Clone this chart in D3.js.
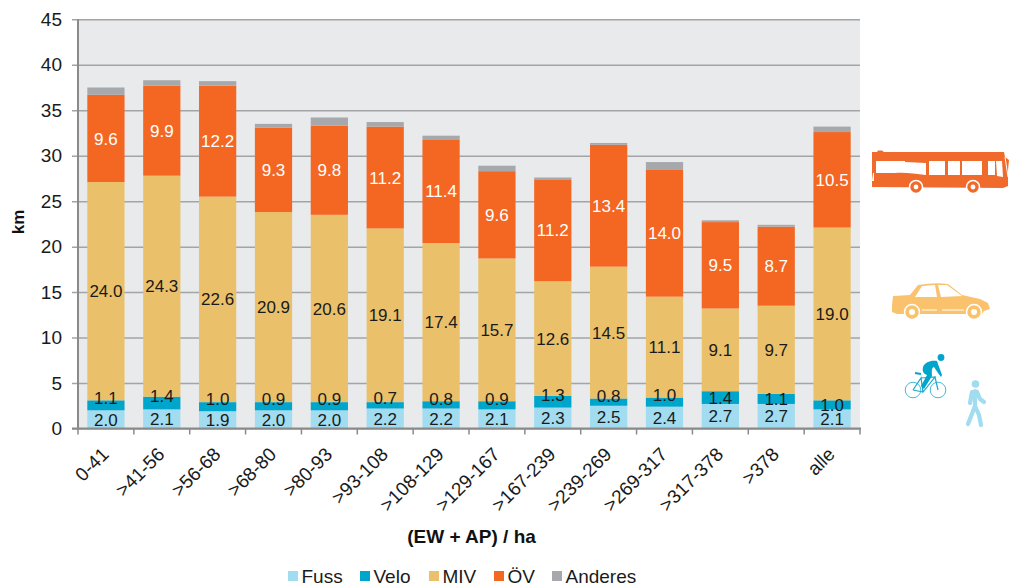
<!DOCTYPE html>
<html><head><meta charset="utf-8">
<script src="https://cdn.jsdelivr.net/npm/d3@7/dist/d3.min.js"></script>
<style>html,body{margin:0;padding:0;background:#fff}svg{display:block}text{font-family:"Liberation Sans",Arial,sans-serif}</style>
</head><body><svg id="c" width="1012" height="585"></svg>
<script>
const categories=["0-41",">41-56",">56-68",">68-80",">80-93",">93-108",">108-129",">129-167",">167-239",">239-269",">269-317",">317-378",">378","alle"];
const fuss=[2.0,2.1,1.9,2.0,2.0,2.2,2.2,2.1,2.3,2.5,2.4,2.7,2.7,2.1];
const velo=[1.1,1.4,1.0,0.9,0.9,0.7,0.8,0.9,1.3,0.8,1.0,1.4,1.1,1.0];
const miv=[24.0,24.3,22.6,20.9,20.6,19.1,17.4,15.7,12.6,14.5,11.1,9.1,9.7,19.0];
const oev=[9.6,9.9,12.2,9.3,9.8,11.2,11.4,9.6,11.2,13.4,14.0,9.5,8.7,10.5];
const anderes=[0.8,0.6,0.5,0.4,0.9,0.5,0.4,0.6,0.2,0.2,0.8,0.2,0.2,0.6];
const veloLabelKm=[3.35,3.55,3.25,3.25,3.25,3.35,3.25,3.25,3.7,3.6,3.75,3.4,3.3,2.6];
const seriesNames=["Fuss","Velo","MIV","ÖV","Anderes"];
const seriesColors=["#a1dcf0","#00a5cb","#eac16a","#f46723","#a7a8ac"];
const seriesValues=[fuss,velo,miv,oev,anderes];
const yTicks=[0,5,10,15,20,25,30,35,40,45];

const svg=d3.select("#c");
const L=78,R=860,T=19.3,B=428.5;
const x=d3.scaleBand().domain(categories).range([L,R]).paddingInner(1/3).paddingOuter(1/6);
const y=d3.scaleLinear().domain([0,45]).range([B,T]);

svg.append("rect").attr("x",L).attr("y",T).attr("width",R-L).attr("height",B-T).attr("fill","#e9eaec");

const yAxis=d3.axisLeft(y).tickValues(yTicks).tickSize(6).tickPadding(10).tickFormat(d3.format("d"));
const gy=svg.append("g").attr("transform",`translate(${L},0)`).call(yAxis);
gy.select(".domain").remove();
gy.selectAll(".tick line").attr("x1",-6).attr("x2",R-L).attr("stroke","#a3a4a6").attr("stroke-width",1.5);
gy.selectAll(".tick text").attr("font-size",19).attr("fill","#1a1a1a").style("font-family",'"Liberation Sans",Arial,sans-serif');

const rows=categories.map((c,i)=>{let a=0;return seriesValues.map((s,k)=>{const r={c,i,k,v:s[i],y0:a,y1:a+s[i]};a+=s[i];return r;});}).flat();
svg.append("g").selectAll("rect").data(rows).join("rect")
 .attr("x",d=>x(d.c)).attr("width",x.bandwidth())
 .attr("y",d=>y(d.y1)).attr("height",d=>y(d.y0)-y(d.y1))
 .attr("fill",d=>seriesColors[d.k]);

const gx=svg.append("g").attr("transform",`translate(0,${B})`);
const step=(R-L)/categories.length;
gx.selectAll("line.t").data(d3.range(categories.length+1)).join("line").attr("class","t")
 .attr("x1",i=>L+i*step).attr("x2",i=>L+i*step).attr("y1",0).attr("y2",6).attr("stroke","#8a8a8a").attr("stroke-width",1.5);
gx.append("line").attr("x1",L-6).attr("x2",R+1).attr("stroke","#8a8a8a").attr("stroke-width",2);
svg.append("line").attr("x1",L).attr("x2",L).attr("y1",T).attr("y2",B).attr("stroke","#8a8a8a").attr("stroke-width",2);

gx.selectAll("text.c").data(categories).join("text").attr("class","c")
 .attr("text-anchor","end").attr("font-size",19).attr("fill","#1a1a1a")
 .attr("transform",d=>`translate(${x(d)+x.bandwidth()/2+4},27) rotate(-45)`)
 .text(d=>d);

svg.append("g").selectAll("text").data(rows.filter(d=>d.k<4)).join("text")
 .attr("x",d=>x(d.c)+x.bandwidth()/2)
 .attr("y",d=>d.k===1?y(veloLabelKm[d.i]):y((d.y0+d.y1)/2))
 .attr("dy","0.36em").attr("text-anchor","middle").attr("font-size",17)
 .attr("fill",d=>d.k===3?"#fff":"#1a1a1a")
 .text(d=>d.v.toFixed(1));

svg.append("text").attr("transform","translate(24,222) rotate(-90)").attr("text-anchor","middle")
 .attr("font-size",17).attr("font-weight","bold").attr("fill","#111").text("km");
svg.append("text").attr("x",471.5).attr("y",543).attr("text-anchor","middle")
 .attr("font-size",19).attr("font-weight","bold").attr("fill","#111").text("(EW + AP) / ha");

const legendX=[288,360,429,494,552];
const lg=svg.append("g").selectAll("g").data(seriesNames).join("g").attr("transform",(d,i)=>`translate(${legendX[i]},571)`);
lg.append("rect").attr("width",10).attr("height",10).attr("fill",(d,i)=>seriesColors[i]);
lg.append("text").attr("x",13.5).attr("y",11.5).attr("font-size",19).attr("fill","#1a1a1a").text(d=>d);

// Icons
const bus=svg.append("g");
bus.append("path").attr("fill","#ef6a2b").attr("d","M872,152 L877,152 L878,150.5 L882,150.5 L884,152 L1004,152 L1005,157 L1009,160 L1008,170 L1008,186 L1003,188 L872,187 Z");
[["M876,161 L905,161 L905,162 L926,163 L926,175 C915,174 905,172 895,173 L876,173 Z"],
 ["M929,161 L945,161 L945,175 L929,175 Z"],["M948,161 L960,161 L960,175 L948,175 Z"],
 ["M962,161 L982,161 L982,175 L962,175 Z"],["M988,161 L995,161 L995,175 L988,175 Z"],["M996,161 L1002,161 L1003,177 L997,176 Z"],["M873,173 L874,173 L874,181 L872,181 Z"]]
 .forEach(([d])=>bus.append("path").attr("d",d).attr("fill","#fff"));
[916,973].forEach(cx=>{
 bus.append("circle").attr("cx",cx).attr("cy",187).attr("r",6.5).attr("fill","#ef6a2b").attr("stroke","#fff").attr("stroke-width",1.5);
 bus.append("circle").attr("cx",cx).attr("cy",187).attr("r",2.4).attr("fill","#fff");
});
bus.append("path").attr("d","M1005,157 L1008,177").attr("stroke","#fff").attr("stroke-width",1).attr("fill","none");

const car=svg.append("g").attr("fill","#fbc26e");
car.append("path").attr("d","M892,306 L893,296 L910,295 L918,285 Q935,282 948,284 L962,295 L980,299 L988,303 L990,309 L984,311 L982,314 L897,314 L892,312 Z");
car.append("path").attr("d","M915,297 L922,286 L935,285 L937,297 Z M938,285 L947,285 L962,296 L941,297 Z").attr("fill","#fff");
[912,974].forEach(cx=>{
 car.append("circle").attr("cx",cx).attr("cy",312).attr("r",7.5).attr("stroke","#fff").attr("stroke-width",1.5);
 car.append("circle").attr("cx",cx).attr("cy",312).attr("r",3).attr("fill","#fff");
});
car.append("path").attr("d","M922,310 L937,310 M942,310 L964,310").attr("stroke","#fff").attr("stroke-width",1).attr("fill","none");

const bike=svg.append("g");
[913,938].forEach(cx=>bike.append("circle").attr("cx",cx).attr("cy",390).attr("r",7.8).attr("fill","none").attr("stroke","#45bbd8").attr("stroke-width",1));
bike.append("path").attr("d","M913,390 L921,378 L923,392 L935,377 L921,378 M935,377 L938,390 M923,392 L913,390").attr("fill","none").attr("stroke","#17a9cb").attr("stroke-width",1.2);
bike.append("path").attr("d","M915,373 L921,374").attr("stroke","#00a5cb").attr("stroke-width",2).attr("fill","none");
bike.append("circle").attr("cx",941).attr("cy",357.5).attr("r",3.4).attr("fill","#00a5cb");
bike.append("path").attr("d","M937,361 C931,360 925,362 923,367 C922,372 924,374 927,375 L921,386 L924,389 L932,376 C932,372 931,368 934,367 L938,373 L941,377 L942,375 L938,364 Z").attr("fill","#00a5cb");

const walk=svg.append("g");
walk.append("circle").attr("cx",975.5).attr("cy",384).attr("r",3.8).attr("fill","#a1dcf0");
walk.append("path").attr("d","M975,391 L975,406 L979,415 L981,425 M975,406 L968,424 M972,392 L970,403 M977,392 L980,399 L984,402")
 .attr("fill","none").attr("stroke","#a1dcf0").attr("stroke-width",4.2).attr("stroke-linecap","round").attr("stroke-linejoin","round");
</script></body></html>
